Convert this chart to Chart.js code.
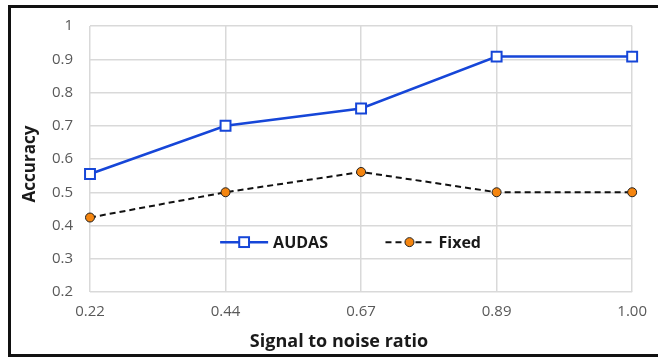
<!DOCTYPE html>
<html>
<head>
<meta charset="utf-8">
<script src="https://cdn.jsdelivr.net/npm/chart.js@4.4.1/dist/chart.umd.min.js"></script>
<style>
  html, body { margin: 0; padding: 0; background: #fff; }
  #wrap { width: 658px; height: 359px; position: relative; }
</style>
</head>
<body>
<div id="wrap"><canvas id="myChart" width="658" height="359"></canvas></div>
<script>
const SNR_LABELS = ['0.22', '0.44', '0.67', '0.89', '1.00'];
const AUDAS = [0.555, 0.70, 0.752, 0.908, 0.908];
const FIXED = [0.424, 0.50, 0.561, 0.50, 0.50];
const Y_MIN = 0.2;
const Y_MAX = 1;
const X_TITLE = 'Signal to noise ratio';
const Y_TITLE = 'Accuracy';

const FONT = '"Open Sans", Lato, sans-serif';

// outer frame like the pasted figure, plus the axis titles centred on it
const framePlugin = {
    id: 'frame',
    afterDraw(chart) {
        const c = chart.ctx;
        c.save();
        c.strokeStyle = '#111';
        c.lineWidth = 3;
        c.strokeRect(9.5, 6.5, 660, 349);

        c.fillStyle = '#1a1a1a';
        c.textAlign = 'center';
        c.textBaseline = 'middle';
        c.font = 'bold 18px ' + FONT;
        c.fillText(X_TITLE, 339, 342);

        c.font = 'bold 17px ' + FONT;
        c.translate(30, 164);
        c.rotate(-Math.PI / 2);
        c.fillText(Y_TITLE, 0, 0);
        c.restore();
    }
};

// legend drawn inside the plot area
const innerLegend = {
    id: 'innerLegend',
    afterDatasetsDraw(chart) {
        const c = chart.ctx;
        const area = chart.chartArea;
        const y = chart.scales.y.getPixelForValue(0.35);
        const starts = [area.left + 0.24 * (area.right - area.left), area.left + 0.545 * (area.right - area.left)];
        chart.data.datasets.forEach((ds, i) => {
            const x0 = starts[i];
            c.save();
            c.strokeStyle = ds.borderColor;
            c.lineWidth = ds.borderWidth;
            c.setLineDash(ds.borderDash || []);
            c.beginPath();
            c.moveTo(x0, y);
            c.lineTo(x0 + 48, y);
            c.stroke();
            c.setLineDash([]);
            const mx = x0 + 24;
            c.fillStyle = ds.pointBackgroundColor;
            c.strokeStyle = ds.pointBorderColor;
            c.lineWidth = ds.pointBorderWidth;
            if (ds.pointStyle === 'rect') {
                const s = ds.pointRadius * 1.4;
                c.fillRect(mx - s / 2, y - s / 2, s, s);
                c.strokeRect(mx - s / 2, y - s / 2, s, s);
            } else {
                c.beginPath();
                c.arc(mx, y, ds.pointRadius, 0, Math.PI * 2);
                c.fill();
                c.stroke();
            }
            c.fillStyle = '#1a1a1a';
            c.font = 'bold 16px ' + FONT;
            c.textBaseline = 'middle';
            c.fillText(ds.label, x0 + 53, y + 1);
            c.restore();
        });
    }
};

const ctx = document.getElementById('myChart');

new Chart(ctx, {
    type: 'line',
    data: {
        labels: SNR_LABELS,
        datasets: [{
            label: 'AUDAS',
            data: AUDAS,
            borderColor: '#1646d8',
            borderWidth: 2.5,
            pointStyle: 'rect',
            pointRadius: 7,
            pointBackgroundColor: '#ffffff',
            pointBorderColor: '#1646d8',
            pointBorderWidth: 2,
            tension: 0
        }, {
            label: 'Fixed',
            data: FIXED,
            borderColor: '#111111',
            borderWidth: 2,
            borderDash: [6, 4],
            pointStyle: 'circle',
            pointRadius: 4.5,
            pointBackgroundColor: '#f5850f',
            pointBorderColor: '#222222',
            pointBorderWidth: 1,
            tension: 0
        }]
    },
    options: {
        responsive: false,
        animation: false,
        layout: { padding: { left: 21, top: 25, right: 25, bottom: 0 } },
        plugins: {
            legend: { display: false },
            tooltip: { enabled: false }
        },
        scales: {
            x: {
                offset: false,
                grid: { color: '#d9d9d9', lineWidth: 1.5, drawTicks: false },
                border: { display: false },
                ticks: { color: '#595959', padding: 11, font: { family: FONT, size: 15 } },
                afterFit(scale) { scale.height = 67; }
            },
            y: {
                min: Y_MIN,
                max: Y_MAX,
                grid: { color: '#d9d9d9', lineWidth: 1.5, drawTicks: false },
                border: { display: false },
                ticks: {
                    stepSize: 0.1,
                    color: '#595959',
                    padding: 17,
                    font: { family: FONT, size: 15 },
                    callback: (v) => Math.round(v * 10) / 10
                },
                afterFit(scale) { scale.width = 69; }
            }
        }
    },
    plugins: [framePlugin, innerLegend]
});
</script>
</body>
</html>
